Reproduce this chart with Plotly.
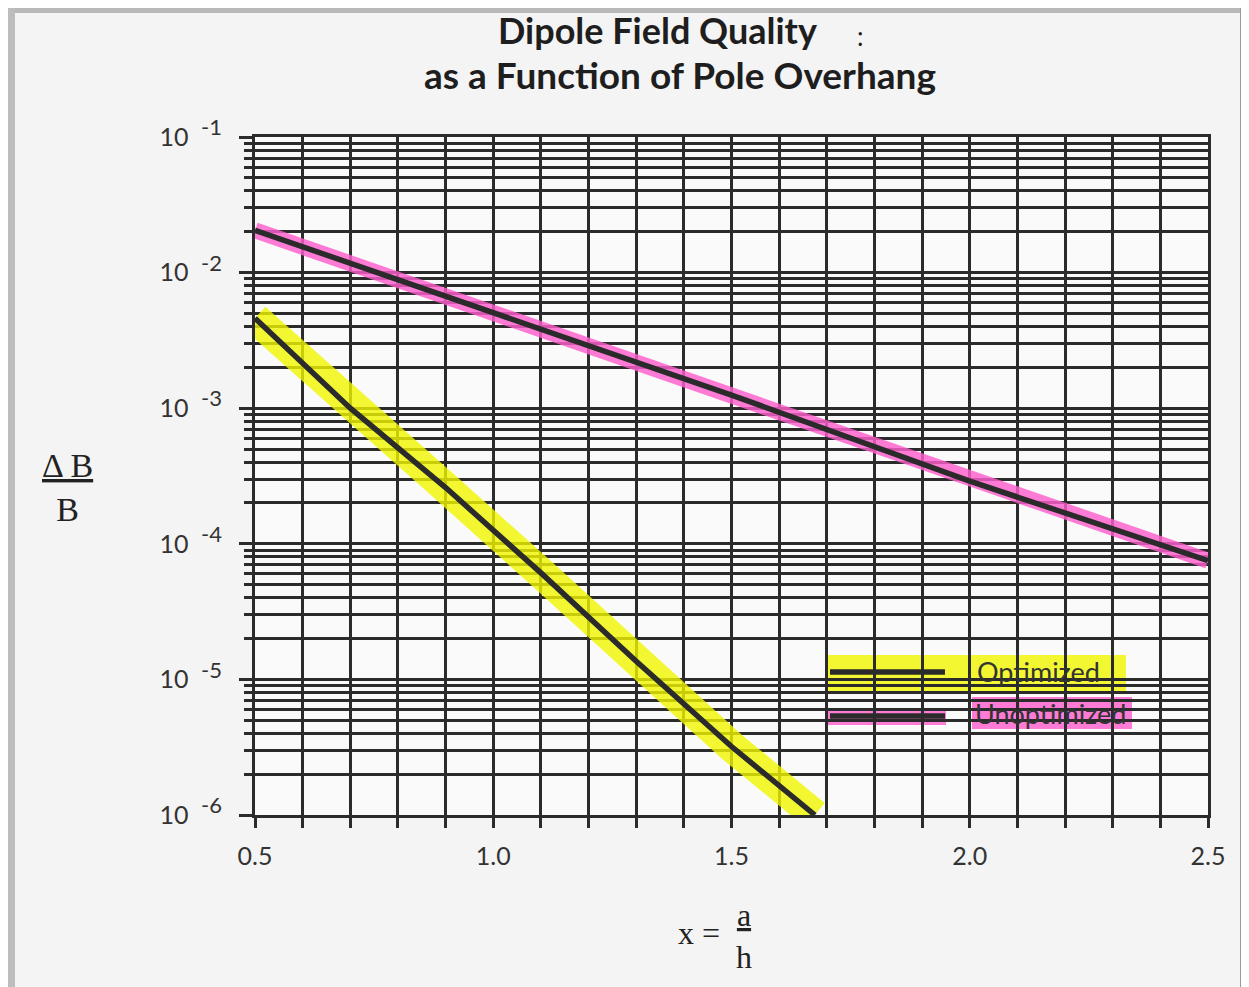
import plotly.graph_objects as go

# ---- data ----
x_opt = [0.5, 0.7, 0.9, 1.1, 1.3, 1.5, 1.675]
y_opt = [4.6e-3, 1.0e-3, 2.6e-4, 6.1e-5, 1.36e-5, 3.2e-6, 1.0e-6]
x_unopt = [0.5, 1.0, 1.5, 2.0, 2.5]
y_unopt = [2.05e-2, 5.0e-3, 1.25e-3, 2.9e-4, 7.5e-5]

x_major = [0.5, 1.0, 1.5, 2.0, 2.5]
x_major_text = ["0.5", "1.0", "1.5", "2.0", "2.5"]
x_minor = [round(0.5 + 0.1 * i, 2) for i in range(21)]
exponents = [-6, -5, -4, -3, -2, -1]
y_major = [10.0 ** e for e in exponents]
y_major_text = ["10\u2002<sup><span style='font-size:22px'>%d</span></sup>" % e for e in exponents]
y_minor = [m * 10.0 ** e for e in exponents[:-1] for m in range(2, 10)]

INK = "#2b2b2b"
FONT = "Lato"
SERIF = "Liberation Serif"
YEL = "rgba(240,246,0,0.8)"
PNK = "rgba(255,95,205,0.82)"

# page has an 8px body margin: figure is drawn from (8, 8)
OFF = 8
W, H = 1249 - OFF, 987 - OFF
Ls, Rs, Ts, Bs = 255, 1208, 137, 815  # plot area in screen pixels

fig = go.Figure()
# highlighter bands
fig.add_trace(go.Scatter(x=x_opt, y=y_opt, mode="lines",
                         line=dict(color=YEL, width=31),
                         hoverinfo="skip", showlegend=False))
fig.add_trace(go.Scatter(x=x_unopt, y=y_unopt, mode="lines",
                         line=dict(color=PNK, width=16),
                         hoverinfo="skip", showlegend=False))
# ink lines
fig.add_trace(go.Scatter(x=x_opt, y=y_opt, mode="lines", name="Optimized",
                         line=dict(color=INK, width=5.5), showlegend=False))
fig.add_trace(go.Scatter(x=x_unopt, y=y_unopt, mode="lines", name="Unoptimized",
                         line=dict(color=INK, width=5.5), showlegend=False))

def px(p):
    return (p - Ls) / (Rs - Ls)
def py(p):
    return (Bs - p) / (Bs - Ts)

shapes = []
# manual legend (highlighter style)
shapes.append(dict(type="rect", xref="paper", yref="paper", x0=px(826), x1=px(1126),
                   y0=py(692), y1=py(655), fillcolor=YEL, line=dict(width=0), layer="below"))
shapes.append(dict(type="line", xref="paper", yref="paper", x0=px(830), x1=px(945),
                   y0=py(672), y1=py(672), line=dict(color=INK, width=5.5)))
shapes.append(dict(type="rect", xref="paper", yref="paper", x0=px(827), x1=px(946),
                   y0=py(725), y1=py(708), fillcolor=PNK, line=dict(width=0), layer="below"))
shapes.append(dict(type="rect", xref="paper", yref="paper", x0=px(972), x1=px(1132),
                   y0=py(729), y1=py(697), fillcolor=PNK, line=dict(width=0), layer="below"))
shapes.append(dict(type="line", xref="paper", yref="paper", x0=px(830), x1=px(945),
                   y0=py(716), y1=py(716), line=dict(color=INK, width=5.5)))
# scan frame
shapes.append(dict(type="rect", xref="paper", yref="paper", x0=px(0), x1=px(1249),
                   y0=py(0), y1=py(13), fillcolor="#b8b8b8", line=dict(width=0), layer="below"))
shapes.append(dict(type="rect", xref="paper", yref="paper", x0=px(0), x1=px(15),
                   y0=py(0), y1=py(987), fillcolor="#bdbdbd", line=dict(width=0), layer="below"))
shapes.append(dict(type="rect", xref="paper", yref="paper", x0=px(1240), x1=px(1249),
                   y0=py(0), y1=py(987), fillcolor="#9a9a9a", line=dict(width=0), layer="below"))

annotations = [
    dict(text="<b>Dipole Field Quality</b>", x=px(657), y=py(30), xref="paper", yref="paper",
         showarrow=False, font=dict(family=FONT, size=36, color="#1e1e1e"), xanchor="center", yanchor="middle"),
    dict(text="<b>as a Function of Pole Overhang</b>", x=px(680), y=py(75), xref="paper", yref="paper",
         showarrow=False, font=dict(family=FONT, size=37, color="#1e1e1e"), xanchor="center", yanchor="middle"),
    dict(text=":", x=px(860), y=py(36), xref="paper", yref="paper", showarrow=False,
         xanchor="center", yanchor="middle", font=dict(family=FONT, size=26, color="#1e1e1e")),
    dict(text="Optimized", x=px(975), y=py(671), xref="paper", yref="paper", showarrow=False,
         xanchor="left", yanchor="middle", font=dict(family=FONT, size=27, color="#333333")),
    dict(text="Unoptimized", x=px(973), y=py(713), xref="paper", yref="paper", showarrow=False,
         xanchor="left", yanchor="middle", font=dict(family=FONT, size=27, color="#333333")),
    dict(text="<u>\u0394 B</u><br>B", x=px(67), y=py(487), xref="paper", yref="paper", showarrow=False,
         xanchor="center", yanchor="middle", font=dict(family=SERIF, size=34, color="#222222")),
    dict(text="x = ", x=px(730), y=py(933), xref="paper", yref="paper", showarrow=False,
         xanchor="right", yanchor="middle", font=dict(family=SERIF, size=32, color="#222222")),
    dict(text="<u>a</u><br>h", x=px(744), y=py(936), xref="paper", yref="paper", showarrow=False,
         xanchor="center", yanchor="middle", font=dict(family=SERIF, size=32, color="#222222")),
]

fig.update_layout(
    width=W, height=H,
    margin=dict(l=Ls - OFF, r=W - (Rs - OFF), t=Ts - OFF, b=H - (Bs - OFF), autoexpand=False),
    paper_bgcolor="#f4f4f4", plot_bgcolor="#fafafa",
    showlegend=False, shapes=shapes, annotations=annotations,
    font=dict(family=FONT, color="#333333"),
)
fig.update_xaxes(
    range=[0.5, 2.5], tickmode="array", tickvals=x_major, ticktext=x_major_text,
    ticks="outside", ticklen=10, tickwidth=2.8, tickcolor=INK, ticklabelstandoff=7,
    tickfont=dict(family=FONT, size=25, color="#333333"),
    showgrid=True, gridcolor=INK, gridwidth=2.8,
    showline=True, linecolor=INK, linewidth=3, mirror=True, zeroline=False,
    minor=dict(tickmode="array", tickvals=x_minor, ticks="outside", ticklen=10, tickwidth=2.8,
               tickcolor=INK, showgrid=True, gridcolor=INK, gridwidth=2.8),
)
fig.update_yaxes(
    type="log", range=[-6, -1], tickmode="array", tickvals=y_major, ticktext=y_major_text,
    ticks="outside", ticklen=13, tickwidth=2.8, tickcolor=INK, ticklabelstandoff=12,
    tickfont=dict(family=FONT, size=25, color="#333333"),
    showgrid=True, gridcolor=INK, gridwidth=2.8,
    showline=True, linecolor=INK, linewidth=3, mirror=True, zeroline=False,
    minor=dict(tickmode="array", tickvals=y_minor, ticks="outside", ticklen=8, tickwidth=2.8,
               tickcolor=INK, showgrid=True, gridcolor=INK, gridwidth=2.8),
)

fig.write_html("out.html")
